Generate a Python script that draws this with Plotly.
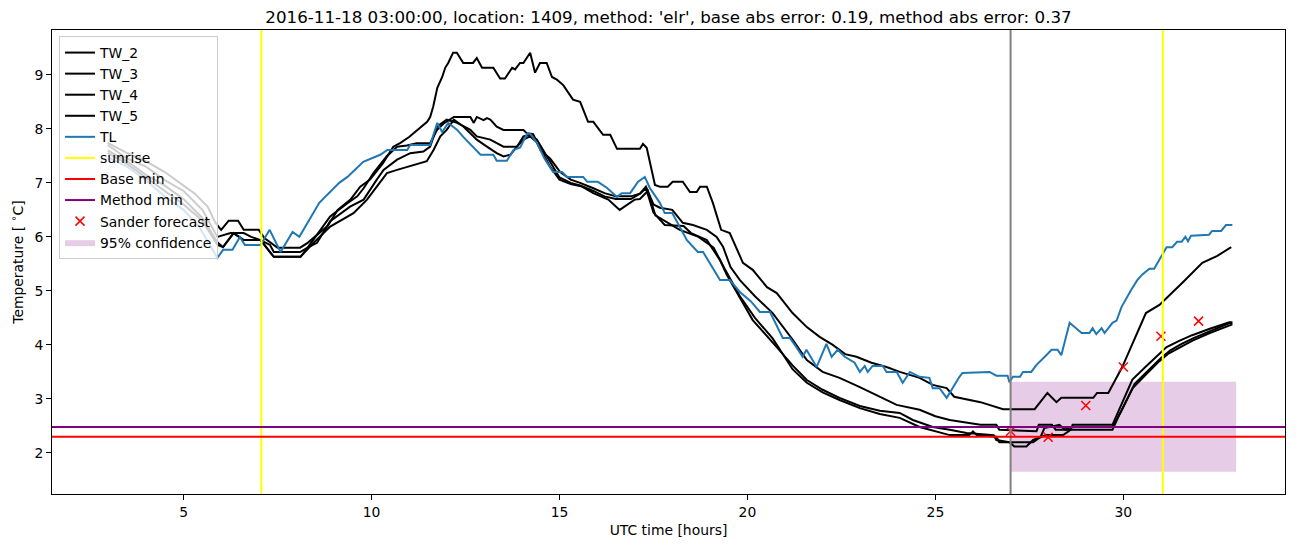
import plotly.graph_objects as go

# ---------------- data (hours UTC, temperature in degC) ----------------
tw2_t = [2.98,3.5,4.0,4.5,5.0,5.3,5.64,5.85,6.0,6.2,6.45,6.6,7.0,7.15,7.5,8.1,8.3,8.83,9.1,9.44,9.7,9.96,10.31,10.58,10.77,11.0,11.22,11.48,11.56,11.64,11.75,11.88,11.96,12.04,12.17,12.27,12.44,12.7,12.8,12.94,13.24,13.42,13.55,13.74,13.82,13.95,14.04,14.22,14.35,14.48,14.66,14.8,14.93,15.1,15.36,15.55,15.76,15.9,16.16,16.35,16.53,17.14,17.22,17.32,17.54,17.67,17.88,18.01,18.28,18.47,18.65,18.74,18.92,19.08,19.3,19.53,19.88,20.14,20.52,20.78,21.2,21.58,21.92,22.27,22.6,22.9,23.3,23.7,24.05,24.58,24.93,25.3,25.5,26.2,26.8,27.64,27.98,28.22,28.35,29.2,29.3,29.6,29.97,30.3,30.6,30.96,31.1,31.57,32.1,32.5,32.87]
tw2_v = [7.74,7.55,7.4,7.2,6.95,6.8,6.56,6.26,6.13,6.3,6.3,6.13,6.13,5.98,5.8,5.8,5.89,6.2,6.5,6.69,6.93,7.06,7.37,7.67,7.74,7.85,7.98,8.13,8.22,8.41,8.76,8.96,9.13,9.22,9.41,9.41,9.22,9.22,9.31,9.13,9.13,8.93,8.93,9.13,9.1,9.22,9.22,9.41,9.04,9.22,9.22,8.96,8.91,8.81,8.54,8.5,8.13,8.13,7.89,7.89,7.63,7.63,7.72,7.65,6.96,6.93,6.93,7.02,7.02,6.83,6.83,6.93,6.93,6.63,6.13,6.07,5.52,5.39,5.07,4.96,4.59,4.33,4.15,4.0,3.83,3.78,3.67,3.59,3.5,3.39,3.26,3.2,3.04,2.94,2.81,2.81,3.11,2.94,3.02,3.02,3.11,3.11,3.59,4.1,4.59,4.74,4.83,5.15,5.52,5.65,5.81]

tw3_t = [2.98,3.5,4.0,4.5,5.0,5.5,5.9,6.25,6.6,6.8,7.05,7.3,7.4,8.1,8.3,8.9,9.35,9.62,9.79,10.05,10.4,10.68,10.94,11.2,11.56,11.74,11.92,12.19,12.63,12.72,12.8,12.98,13.07,13.16,13.33,13.51,14.04,14.13,14.3,14.5,14.75,15.02,15.3,15.55,15.9,16.2,16.5,16.9,17.14,17.3,17.5,17.67,18.0,18.28,18.55,18.92,19.18,19.35,19.55,19.8,20.2,20.67,21.2,21.58,22.0,22.45,22.99,23.52,23.97,24.58,25.0,25.38,26.2,26.62,26.7,27.69,27.75,28.1,28.2,28.6,28.65,29.71,29.9,30.24,30.6,30.96,31.15,31.5,31.83,32.3,32.82,32.9]
tw3_v = [7.7,7.45,7.3,7.05,6.85,6.5,6.0,6.07,6.07,6.0,5.94,5.85,5.72,5.72,5.8,6.38,6.62,6.75,6.9,7.18,7.49,7.67,7.69,7.735,7.735,7.98,8.1,8.22,8.22,8.11,8.22,8.16,8.2,8.17,8.04,7.98,7.98,7.92,7.9,7.6,7.45,7.2,7.06,7.0,6.9,6.81,6.75,6.75,6.8,6.93,6.6,6.54,6.5,6.26,6.22,6.13,6.0,5.82,5.44,5.2,4.9,4.59,4.1,3.72,3.5,3.39,3.22,3.04,2.89,2.8,2.68,2.61,2.52,2.52,2.43,2.4,2.52,2.52,2.43,2.43,2.52,2.52,2.82,3.36,3.6,3.84,3.96,4.08,4.18,4.3,4.42,4.42]

tw4_t = [2.98,3.5,4.0,4.5,5.0,5.5,5.9,6.05,6.33,6.6,7.05,7.3,7.4,8.11,8.3,8.55,8.9,9.43,9.79,10.14,10.32,10.68,11.03,11.38,11.56,11.74,12.0,12.28,12.63,12.8,13.16,13.51,13.87,14.04,14.22,14.4,14.75,15.0,15.3,15.55,15.9,16.2,16.5,16.9,17.14,17.3,17.5,17.8,18.3,18.5,18.92,19.27,19.45,19.72,20.14,20.78,21.2,21.58,22.0,22.45,22.99,23.52,24.05,24.4,24.93,25.38,25.83,26.55,26.62,26.97,27.1,27.42,27.6,27.95,28.4,28.6,29.71,29.9,30.25,30.6,30.96,31.2,31.5,31.84,32.3,32.81,32.9]
tw4_v = [7.6,7.4,7.15,6.95,6.7,6.35,5.9,5.81,6.07,5.94,5.94,5.72,5.63,5.63,5.8,5.89,6.29,6.56,6.69,7.06,7.24,7.43,7.55,7.58,7.67,8.04,8.17,8.11,7.98,7.86,7.8,7.67,7.67,7.86,7.89,7.8,7.4,7.1,7.0,6.95,6.85,6.75,6.7,6.7,6.8,6.9,6.45,6.22,6.2,6.07,5.94,5.57,5.3,4.96,4.46,3.96,3.62,3.35,3.17,3.02,2.87,2.78,2.74,2.61,2.48,2.43,2.37,2.33,2.24,2.2,2.12,2.12,2.24,2.33,2.33,2.43,2.43,2.72,3.2,3.45,3.7,3.84,3.96,4.08,4.22,4.36,4.38]

tw5_t = [2.98,3.5,4.0,4.5,5.0,5.5,5.9,6.05,6.33,6.6,7.05,7.3,7.4,8.11,8.4,8.9,9.52,9.88,10.14,10.41,10.68,11.12,11.47,11.65,11.83,12.0,12.19,12.45,12.63,12.8,13.07,13.33,13.51,13.69,13.87,14.04,14.22,14.4,14.75,15.0,15.3,15.6,15.9,16.3,16.6,16.8,17.0,17.14,17.35,17.55,17.8,18.2,18.7,19.1,19.4,19.8,20.2,20.67,21.2,21.58,22.0,22.45,22.99,23.52,24.05,24.58,25.38,25.9,26.0,26.1,26.62,26.7,27.6,27.8,27.9,28.3,28.45,28.6,29.71,29.95,30.3,30.65,31.0,31.25,31.55,31.88,32.35,32.81,32.9]
tw5_v = [7.55,7.35,7.1,6.85,6.6,6.3,5.85,5.81,6.07,5.94,5.94,5.72,5.63,5.63,5.85,6.19,6.44,6.69,6.93,7.18,7.24,7.33,7.4,7.61,7.86,7.98,8.17,8.04,7.92,7.8,7.67,7.55,7.49,7.52,7.67,7.8,7.86,7.75,7.3,7.06,6.98,6.93,6.81,6.69,6.5,6.6,6.69,6.7,6.85,6.4,6.3,6.13,6.0,5.8,5.4,4.9,4.5,4.12,3.55,3.3,3.12,2.98,2.83,2.72,2.65,2.48,2.33,2.33,2.4,2.33,2.3,2.2,2.2,2.3,2.46,2.52,2.43,2.48,2.48,2.78,3.28,3.52,3.76,3.9,4.02,4.13,4.27,4.4,4.4]

tl_t = [3.03,3.5,4.0,4.5,5.0,5.4,5.7,5.9,6.05,6.3,6.5,6.63,7.05,7.29,7.58,7.9,8.08,8.61,9.14,9.36,9.78,10.23,10.42,10.95,11.03,11.56,11.75,11.88,12.04,12.28,12.44,12.7,12.9,13.24,13.33,13.6,13.78,13.95,14.14,14.22,14.4,14.6,14.83,15.07,15.2,15.63,15.74,16.02,16.26,16.53,16.66,16.88,17.09,17.27,17.4,17.67,17.8,18.0,18.39,18.68,18.82,19.27,19.53,19.8,20.1,20.33,20.6,20.94,21.13,21.3,21.47,21.57,21.84,22.1,22.24,22.4,22.59,22.85,22.99,23.12,23.2,23.33,23.6,23.7,23.97,24.13,24.32,24.58,24.84,24.93,25.11,25.3,25.45,25.64,25.72,26.44,26.62,26.92,26.97,27.06,27.25,27.33,27.55,27.69,27.95,28.09,28.25,28.35,28.57,28.7,28.89,29.1,29.18,29.28,29.42,29.5,29.71,29.82,29.95,30.21,30.37,30.5,30.69,30.82,31.01,31.15,31.3,31.43,31.55,31.65,31.72,31.8,32.28,32.36,32.6,32.73,32.9]
tl_v = [7.46,7.3,7.05,6.75,6.5,6.2,5.85,5.61,5.76,5.76,6.0,5.85,5.85,6.13,5.72,6.09,6.0,6.63,7.0,7.11,7.39,7.52,7.61,7.61,7.7,7.7,8.11,7.94,8.11,7.98,7.85,7.67,7.52,7.52,7.41,7.41,7.61,7.65,7.91,7.91,7.74,7.45,7.2,7.2,7.11,7.11,7.02,7.02,6.91,6.74,6.81,6.81,7.02,7.11,6.91,6.63,6.44,6.44,5.94,5.72,5.72,5.2,5.2,4.98,4.8,4.61,4.61,4.13,4.13,3.96,3.78,3.91,3.59,4.02,3.78,3.91,3.78,3.67,3.5,3.61,3.5,3.61,3.61,3.5,3.5,3.3,3.5,3.41,3.39,3.2,3.2,3.02,3.2,3.41,3.48,3.5,3.43,3.43,3.31,3.41,3.41,3.5,3.5,3.63,3.81,3.91,3.91,3.81,4.41,4.33,4.22,4.22,4.31,4.2,4.31,4.22,4.41,4.45,4.7,5.02,5.2,5.3,5.41,5.41,5.63,5.81,5.81,5.91,5.91,6.0,5.92,6.02,6.04,6.11,6.11,6.22,6.22]

sunrise_times = [7.07, 31.05]
forecast_time = 27.0
base_min = 2.30
method_min = 2.48
sander_t = [27, 28, 29, 30, 31, 32]
sander_v = [2.40, 2.29, 2.88, 3.59, 4.16, 4.44]
conf_t = [27.0, 33.0]
conf_low = 1.65
conf_high = 3.32

title_text = "2016-11-18 03:00:00, location: 1409, method: 'elr', base abs error: 0.19, method abs error: 0.37"

# ---------------- figure ----------------
FONT = "DejaVu Sans"
FS = 13.9
W, H = 1294, 539   # page body has an 8px default margin
fig = go.Figure()

# confidence band first (drawn beneath lines), listed last in legend
fig.add_trace(go.Scatter(
    x=[conf_t[0], conf_t[1], conf_t[1], conf_t[0], conf_t[0]],
    y=[conf_low, conf_low, conf_high, conf_high, conf_low],
    fill="toself", fillcolor="rgba(128,0,128,0.2)", mode="lines",
    line=dict(width=0, color="rgba(128,0,128,0.2)"),
    name="95% confidence", legendrank=10, hoverinfo="skip"))

series = [("TW_2", tw2_t, tw2_v, "black", 1), ("TW_3", tw3_t, tw3_v, "black", 2),
          ("TW_4", tw4_t, tw4_v, "black", 3), ("TW_5", tw5_t, tw5_v, "black", 4),
          ("TL", tl_t, tl_v, "#1f77b4", 5)]
for name, t, v, c, r in series:
    fig.add_trace(go.Scatter(x=t, y=v, mode="lines", name=name,
                             line=dict(color=c, width=2), legendrank=r))

# legend proxies for reference lines
for name, c, r in [("sunrise", "#ffff00", 6), ("Base min", "#ff0000", 7), ("Method min", "#800080", 8)]:
    fig.add_trace(go.Scatter(x=[None], y=[None], mode="lines", name=name,
                             line=dict(color=c, width=2), legendrank=r))

fig.add_trace(go.Scatter(x=sander_t, y=sander_v, mode="markers", name="Sander forecast",
                         marker=dict(symbol="x-thin", size=9, color="red",
                                     line=dict(color="red", width=1.5)),
                         legendrank=9))

shapes = []
for st in sunrise_times:
    shapes.append(dict(type="line", xref="x", yref="y domain", x0=st, x1=st, y0=0, y1=1,
                       line=dict(color="#ffff00", width=2), layer="above"))
shapes.append(dict(type="line", xref="x", yref="y domain", x0=forecast_time, x1=forecast_time,
                   y0=0, y1=1, line=dict(color="#808080", width=2), layer="above"))
shapes.append(dict(type="line", xref="x domain", yref="y", x0=0, x1=1, y0=base_min, y1=base_min,
                   line=dict(color="#ff0000", width=2), layer="above"))
shapes.append(dict(type="line", xref="x domain", yref="y", x0=0, x1=1, y0=method_min, y1=method_min,
                   line=dict(color="#800080", width=2), layer="above"))

fig.update_layout(
    width=W, height=H,
    margin=dict(l=44, r=17, t=22, b=53, autoexpand=False),
    paper_bgcolor="white", plot_bgcolor="white",
    font=dict(family=FONT, size=FS, color="black"),
    shapes=shapes,
    title=dict(text=title_text, x=0.5, xref="paper", xanchor="center",
               y=1 - 9 / H, yref="container", yanchor="middle",
               font=dict(family=FONT, size=16.7, color="black")),
    showlegend=True,
    legend=dict(x=0.0057, y=0.987, xanchor="left", yanchor="top",
                bgcolor="rgba(255,255,255,0.8)", bordercolor="#cccccc", borderwidth=1,
                font=dict(family=FONT, size=FS, color="black"), traceorder="normal"),
)
fig.update_xaxes(range=[1.5, 34.3], tickvals=[5, 10, 15, 20, 25, 30], showgrid=False, zeroline=False,
                 showline=True, mirror=True, linecolor="black", linewidth=1, automargin=False,
                 ticks="outside", ticklen=5, tickwidth=1, tickcolor="black",
                 tickfont=dict(family=FONT, size=FS),
                 title=dict(text="UTC time [hours]", font=dict(family=FONT, size=FS), standoff=6))
fig.update_yaxes(range=[1.24, 9.83], tickvals=[2, 3, 4, 5, 6, 7, 8, 9], showgrid=False, zeroline=False,
                 showline=True, mirror=True, linecolor="black", linewidth=1, automargin=False,
                 ticks="outside", ticklen=5, tickwidth=1, tickcolor="black",
                 tickfont=dict(family=FONT, size=FS),
                 title=dict(text="Temperature [ <sup>∘</sup>C]", font=dict(family=FONT, size=FS), standoff=8))

fig.write_html("out.html")
